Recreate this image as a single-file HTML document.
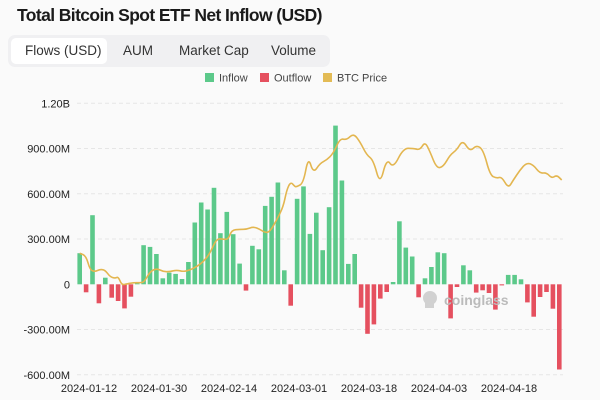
<!DOCTYPE html>
<html><head><meta charset="utf-8"><style>
body{margin:0;width:600px;height:400px;background:#fafafa;font-family:"Liberation Sans",sans-serif;overflow:hidden;position:relative}
.t{position:absolute;left:17px;top:5px;font-size:17.5px;font-weight:bold;color:#1a1a1a;letter-spacing:-0.6px}
.tabs{position:absolute;left:8px;top:35px;width:322px;height:32px;background:#f0f0f2;border-radius:7px}
.sel{position:absolute;left:3px;top:3px;width:96px;height:26px;background:#fff;border-radius:5px}
.tab{position:absolute;top:8px;font-size:13.5px;color:#333}
</style></head><body>
<div class="t">Total Bitcoin Spot ETF Net Inflow (USD)</div>
<div class="tabs"><div class="sel"></div>
<div class="tab" style="left:17px">Flows (USD)</div>
<div class="tab" style="left:115px">AUM</div>
<div class="tab" style="left:171px">Market Cap</div>
<div class="tab" style="left:263px">Volume</div></div>
<svg id="s" width="600" height="400" style="position:absolute;left:0;top:0" font-family="Liberation Sans, sans-serif"></svg>
<script>
var s=document.getElementById('s'),h='';
h+='<rect x="205" y="73" width="9" height="9" fill="#5cc98a"/><text x="219" y="81.5" font-size="11" fill="#444">Inflow</text>';
h+='<rect x="260" y="73" width="9" height="9" fill="#e5505f"/><text x="274" y="81.5" font-size="11" fill="#444">Outflow</text>';
h+='<rect x="323" y="73" width="9" height="9" fill="#e3bb55"/><text x="337" y="81.5" font-size="11" fill="#444">BTC Price</text>';
var z=284.3,k=45.25/300;
var ticks=[[1200,'1.20B'],[900,'900.00M'],[600,'600.00M'],[300,'300.00M'],[0,'0'],[-300,'-300.00M'],[-600,'-600.00M']];
ticks.forEach(function(t){var y=z-t[0]*k;
if(t[0]!=0)h+='<line x1="77" x2="563" y1="'+y+'" y2="'+y+'" stroke="#e6e6e6" stroke-dasharray="4,3"/>';
h+='<text x="70" y="'+(y+4)+'" font-size="11" text-anchor="end" fill="#222">'+t[1]+'</text>';});
var v=[206,-53,458,-126,44,-89,-111,-160,-82,5,259,248,201,40,77,69,35,148,410,542,496,640,339,480,332,137,-42,255,232,520,580,675,93,-142,567,649,334,475,226,511,1052,688,135,201,-155,-328,-266,-95,-51,15,418,243,184,-86,40,115,212,206,-226,-18,126,93,-55,-40,-58,-168,-7,62,62,33,-120,-215,-84,-51,-162,-565];
v.forEach(function(d,i){var x=79.7+i*6.395-2.3,hh=Math.abs(d)*k;
h+='<rect x="'+x.toFixed(1)+'" y="'+(d>0?z-hh:z).toFixed(1)+'" width="4.6" height="'+hh.toFixed(1)+'" fill="'+(d>0?'#5cc98a':'#e5505f')+'"/>';});
h+='<g opacity="0.35" fill="#888"><circle cx="430" cy="298" r="7"/><rect x="425" y="298" width="9" height="10"/></g><text x="444" y="305" font-size="14" font-weight="bold" fill="#bbb">coinglass</text>';
var p1=[[239,490],[258,497],[270,540],[285,545],[300,538],[315,540],[330,560],[345,565],[355,560],[365,585],[380,582],[400,578],[420,578],[432,577],[450,545],[470,535],[490,545],[510,545],[530,540],[550,545],[570,540],[590,530],[610,515],[630,490],[650,445],[670,448],[685,448],[695,420],[720,418],[740,418],[760,410],[780,418],[795,428],[810,425],[830,390],[850,350],[860,300],[872,275],[885,290]];
var p2=[[20,290],[40,280],[55,200],[70,250],[90,220],[110,210],[130,190],[150,145],[170,150],[190,130],[210,155],[230,195],[250,210],[270,285],[290,205],[310,235],[340,175],[370,175],[390,180],[405,155],[420,185],[440,235],[460,230],[480,195],[500,180],[518,150],[540,185],[560,165],[580,180],[600,255],[620,265],[635,260],[655,295],[670,270],[690,240],[710,218],[730,225],[750,250],[770,248],[785,265],[800,255],[815,270]];
var pts=p1.map(function(p){return [p[0]/3,90+p[1]/3]}).concat(p2.map(function(p){return [290+p[0]/3,90+p[1]/3]}));
var d='M'+pts[0][0].toFixed(1)+','+pts[0][1].toFixed(1);
for(var i=1;i<pts.length;i++){var a=pts[i-1],b=pts[i],m=[(a[0]+b[0])/2,(a[1]+b[1])/2];d+=' Q'+a[0].toFixed(1)+','+a[1].toFixed(1)+' '+m[0].toFixed(1)+','+m[1].toFixed(1);}
d+=' L'+pts[pts.length-1][0].toFixed(1)+','+pts[pts.length-1][1].toFixed(1);
h+='<path d="'+d+'" fill="none" stroke="#e3b650" stroke-width="1.6"/>';
[['2024-01-12',89],['2024-01-30',159],['2024-02-14',229],['2024-03-01',299],['2024-03-18',369],['2024-04-03',439],['2024-04-18',509]].forEach(function(t){
h+='<text x="'+t[1]+'" y="392" font-size="11" text-anchor="middle" fill="#222">'+t[0]+'</text>';});
s.innerHTML=h;
</script>
</body></html>
